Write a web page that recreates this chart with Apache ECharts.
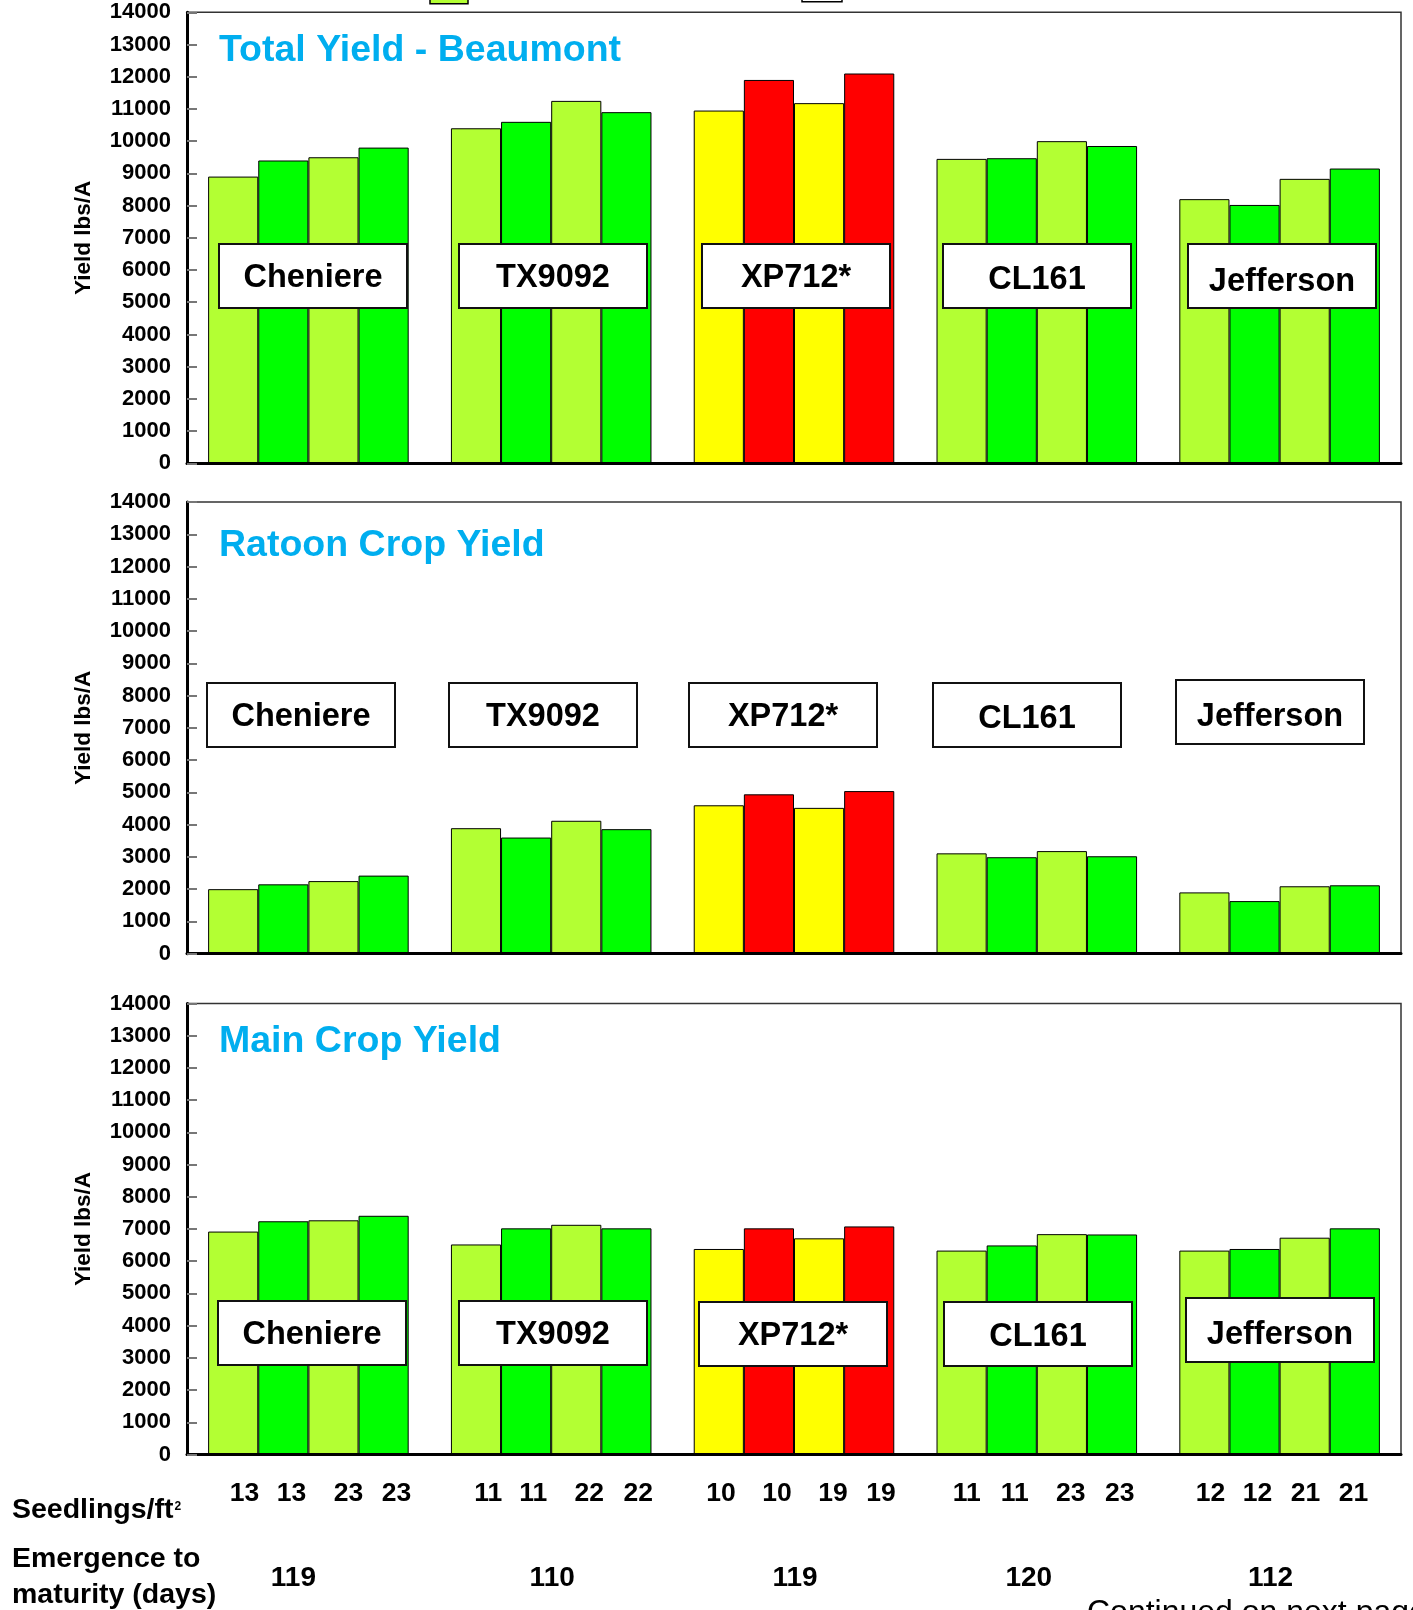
<!DOCTYPE html>
<html>
<head>
<meta charset="utf-8">
<script src="https://cdn.jsdelivr.net/npm/echarts@6/dist/echarts.min.js"></script>
<style>
html,body{margin:0;padding:0;background:#fff;}
#c{width:1413px;height:1610px;}
</style>
</head>
<body>
<div id="c"></div>
<script>
// ---------- DATA ----------
const categories = ['Cheniere', 'TX9092', 'XP712*', 'CL161', 'Jefferson'];

// Total Yield - Beaumont (bars 1..4 within each variety)
const totalBar1 = [8900, 10400, 10950, 9450, 8200];
const totalBar2 = [9400, 10600, 11900, 9470, 8020];
const totalBar3 = [9500, 11250, 11180, 10000, 8830];
const totalBar4 = [9800, 10900, 12100, 9850, 9150];

// Ratoon Crop Yield
const ratoonBar1 = [2000, 3890, 4600, 3110, 1900];
const ratoonBar2 = [2150, 3600, 4940, 2990, 1630];
const ratoonBar3 = [2250, 4120, 4520, 3180, 2090];
const ratoonBar4 = [2420, 3860, 5040, 3020, 2120];

// Main Crop Yield
const mainBar1 = [6920, 6520, 6380, 6330, 6330];
const mainBar2 = [7240, 7020, 7020, 6490, 6380];
const mainBar3 = [7270, 7130, 6710, 6840, 6730];
const mainBar4 = [7410, 7020, 7080, 6830, 7020];

// Seedlings/ft2 per bar, per variety
const seedlingsCheniere = [13, 13, 23, 23];
const seedlingsTX9092 = [11, 11, 22, 22];
const seedlingsXP712 = [10, 10, 19, 19];
const seedlingsCL161 = [11, 11, 23, 23];
const seedlingsJefferson = [12, 12, 21, 21];

// Emergence to maturity (days)
const maturityDays = [119, 110, 119, 120, 112];

const panelTitles = ['Total Yield - Beaumont', 'Ratoon Crop Yield', 'Main Crop Yield'];
const yMin = 0, yMax = 14000, yInterval = 1000;

// ---------- LAYOUT / STYLE ----------
const FONT = '"Liberation Sans", Arial, Helvetica, sans-serif';
const C_LIGHT = '#B3FF33', C_DARK = '#00FF00', C_YELLOW = '#FFFF00', C_RED = '#FF0000';
const TITLE_COLOR = '#00AEEF';
const grids = [
  {left: 187, right: 12, top: 12.3, height: 451},
  {left: 187, right: 12, top: 502, height: 451.7},
  {left: 187, right: 12, top: 1003.5, height: 451}
];
const titlePos = [[219, 51], [219, 546], [219, 1042]];
const boxLayout = [
  [[219, 244], [459, 244], [702, 244], [943, 244], [1188, 244]],
  [[207, 683], [449, 683], [689, 683], [933, 683], [1176, 680]],
  [[218, 1301], [459, 1301], [699, 1302], [944, 1302], [1186, 1298]]
];
const boxTextNudge = [
  [2, 2, 2, 4, 6],
  [2, 2, 2, 4, 5],
  [2, 2, 2, 3, 5]
];
const BOX_W = 188, BOX_H = 64;
const seedOffsets = [
  [-64, -17, 40, 88],
  [-63, -18, 38, 87],
  [-73, -17, 39, 87],
  [-70, -22, 34, 83],
  [-69, -22, 26, 74]
];
const maturityOffsets = [-15, 1, 1, -8, -9];

const seriesData = [
  [totalBar1, totalBar2, totalBar3, totalBar4],
  [ratoonBar1, ratoonBar2, ratoonBar3, ratoonBar4],
  [mainBar1, mainBar2, mainBar3, mainBar4]
];
const seedlings = [seedlingsCheniere, seedlingsTX9092, seedlingsXP712, seedlingsCL161, seedlingsJefferson];

const chart = echarts.init(document.getElementById('c'), null, {renderer: 'canvas'});

const gridOpt = grids.map(g => Object.assign({
  show: true, borderColor: '#333', borderWidth: 1.5, backgroundColor: 'transparent',
  containLabel: false, outerBoundsMode: 'none'
}, g));

const xAxes = grids.map((g, i) => ({
  type: 'category', gridIndex: i, data: categories,
  axisLine: {show: true, lineStyle: {color: '#000', width: 3}},
  axisTick: {show: false}, axisLabel: {show: false}, splitLine: {show: false}, z: 5
}));

const yAxes = grids.map((g, i) => ({
  type: 'value', gridIndex: i, min: yMin, max: yMax, interval: yInterval,
  name: 'Yield lbs/A', nameLocation: 'middle', nameGap: 92, nameRotate: 90,
  nameTextStyle: {fontFamily: FONT, fontWeight: 'bold', fontSize: 22.5, color: '#000'},
  axisLine: {show: true, lineStyle: {color: '#000', width: 3}},
  axisTick: {show: true, inside: true, length: 10, lineStyle: {color: '#777', width: 2}},
  axisLabel: {fontFamily: FONT, fontWeight: 'bold', fontSize: 22, color: '#000', margin: 16,
    formatter: v => String(v)},
  splitLine: {show: false}, z: 5
}));

const series = [];
seriesData.forEach((panel, gi) => {
  panel.forEach((arr, k) => {
    const even = (k % 2 === 0);
    series.push({
      type: 'bar', xAxisIndex: gi, yAxisIndex: gi, data: arr,
      barGap: '0%', barCategoryGap: '17.4%',
      itemStyle: {
        color: p => p.dataIndex === 2 ? (even ? C_YELLOW : C_RED) : (even ? C_LIGHT : C_DARK),
        borderColor: '#000', borderWidth: 1
      },
      emphasis: {disabled: true}, silent: true
    });
  });
});

chart.setOption({
  animation: false,
  backgroundColor: '#fff',
  grid: gridOpt, xAxis: xAxes, yAxis: yAxes, series: series
});

// ---------- ANNOTATIONS ----------
const graphics = [];
// partially visible legend keys at top edge
graphics.push({type: 'rect', shape: {x: 430, y: -10, width: 38, height: 13.7},
  style: {fill: C_LIGHT, stroke: '#000', lineWidth: 1.5}, z: 10});
graphics.push({type: 'rect', shape: {x: 802, y: -10, width: 40, height: 11.7},
  style: {fill: '#fff', stroke: '#000', lineWidth: 1.5}, z: 10});

panelTitles.forEach((t, i) => {
  graphics.push({type: 'text', x: titlePos[i][0], y: titlePos[i][1], z: 10,
    style: {text: t, fontFamily: FONT, fontWeight: 'bold', fontSize: 37.5, fill: TITLE_COLOR,
      align: 'left', verticalAlign: 'middle'}});
});

boxLayout.forEach((panel, pi) => {
  panel.forEach((pos, gi) => {
    graphics.push({type: 'rect', shape: {x: pos[0], y: pos[1], width: BOX_W, height: BOX_H},
      style: {fill: '#fff', stroke: '#111', lineWidth: 2}, z: 10});
    graphics.push({type: 'text', x: pos[0] + BOX_W / 2, y: pos[1] + BOX_H / 2 + boxTextNudge[pi][gi], z: 11,
      style: {text: categories[gi], fontFamily: FONT, fontWeight: 'bold', fontSize: 32.5, fill: '#000',
        align: 'center', verticalAlign: 'middle'}});
  });
});

categories.forEach((c, gi) => {
  const cx = chart.convertToPixel({xAxisIndex: 2}, c);
  seedlings[gi].forEach((v, k) => {
    graphics.push({type: 'text', x: cx + seedOffsets[gi][k], y: 1494, z: 10,
      style: {text: String(v), fontFamily: FONT, fontWeight: 'bold', fontSize: 26.5, fill: '#000',
        align: 'center', verticalAlign: 'middle'}});
  });
  graphics.push({type: 'text', x: cx + maturityOffsets[gi], y: 1578, z: 10,
    style: {text: String(maturityDays[gi]), fontFamily: FONT, fontWeight: 'bold', fontSize: 28, fill: '#000',
      align: 'center', verticalAlign: 'middle'}});
});

graphics.push({type: 'text', x: 12, y: 1510, z: 10,
  style: {
    text: '{a|Seedlings/ft}{s|2}',
    rich: {
      a: {fontFamily: FONT, fontWeight: 'bold', fontSize: 28.5, fill: '#000', color: '#000'},
      s: {fontFamily: FONT, fontWeight: 'bold', fontSize: 12, color: '#000', padding: [0, 0, 6, 1]}
    },
    align: 'left', verticalAlign: 'middle'}});
graphics.push({type: 'text', x: 12, y: 1559, z: 10,
  style: {text: 'Emergence to', fontFamily: FONT, fontWeight: 'bold', fontSize: 28.5, fill: '#000',
    align: 'left', verticalAlign: 'middle'}});
graphics.push({type: 'text', x: 12, y: 1595, z: 10,
  style: {text: 'maturity (days)', fontFamily: FONT, fontWeight: 'bold', fontSize: 28.5, fill: '#000',
    align: 'left', verticalAlign: 'middle'}});
graphics.push({type: 'text', x: 1087, y: 1597, z: 10,
  style: {text: 'Continued on next page', fontFamily: FONT, fontSize: 32, fill: '#000',
    align: 'left', verticalAlign: 'top'}});

chart.setOption({graphic: graphics});
</script>
</body>
</html>
